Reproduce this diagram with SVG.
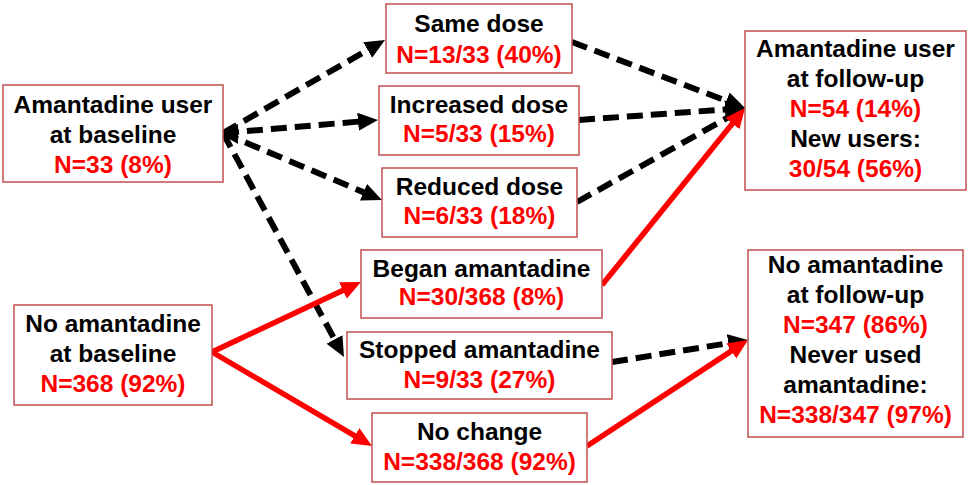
<svg xmlns="http://www.w3.org/2000/svg" width="972" height="485" viewBox="0 0 972 485">
<style>
.box{fill:#fff;stroke:#c0504d;stroke-width:1.5}
text{font-family:"Liberation Sans",Arial,sans-serif;font-weight:bold;font-size:24.5px;text-anchor:middle}
.k{fill:#000}
.r{fill:#ff0000}
.dash{fill:none;stroke:#000;stroke-width:6;stroke-dasharray:16 8}
.red{fill:none;stroke:#ff0000;stroke-width:5.5}
</style>
<defs>
<marker id="ak" markerUnits="userSpaceOnUse" markerWidth="22" markerHeight="20" refX="8" refY="9" orient="auto"><path d="M0,0 L20,9 L0,18 z" fill="#000"/></marker>
<marker id="ar" markerUnits="userSpaceOnUse" markerWidth="22" markerHeight="20" refX="8" refY="9" orient="auto"><path d="M0,0 L20,9 L0,18 z" fill="#ff0000"/></marker>
</defs>
<rect width="972" height="485" fill="#fff"/>
<g id="connectors">
<path class="dash" d="M223,133 L374.6,46" marker-end="url(#ak)"/>
<path class="dash" d="M223,133 L366,121" marker-end="url(#ak)"/>
<path class="dash" d="M223,133 L370.9,195.3" marker-end="url(#ak)"/>
<path class="dash" d="M223,133 L338.3,346.4" marker-end="url(#ak)"/>
<polygon points="221,134 238,124 238,144" fill="#000"/>
<path class="dash" d="M572,42 L733.8,103.7" marker-end="url(#ak)"/>
<path class="dash" d="M579,120 L733,108.9" marker-end="url(#ak)"/>
<path class="dash" d="M577,202 L734.5,113.9" marker-end="url(#ak)"/>
<path class="red" d="M602,285 L737.5,117.3" marker-end="url(#ar)"/>
<path class="red" d="M212,352 L350.1,287.1" marker-end="url(#ar)"/>
<path class="red" d="M212,352 L361.7,439.9" marker-end="url(#ar)"/>
<path class="dash" d="M612,362 L736.2,341.9" marker-end="url(#ak)"/>
<path class="red" d="M587,446 L738,346.6" marker-end="url(#ar)"/>
</g>
<g id="user-baseline">
<rect class="box" x="3" y="85" width="220" height="97"/>
<text class="k" x="113" y="113">Amantadine user</text>
<text class="k" x="113" y="143">at baseline</text>
<text class="r" x="113" y="173">N=33 (8%)</text>
</g>
<g id="no-baseline">
<rect class="box" x="14" y="305" width="198" height="100"/>
<text class="k" x="113" y="332">No amantadine</text>
<text class="k" x="113" y="362">at baseline</text>
<text class="r" x="113" y="392">N=368 (92%)</text>
</g>
<g id="same-dose">
<rect class="box" x="386" y="4" width="186" height="69"/>
<text class="k" x="479" y="32">Same dose</text>
<text class="r" x="479" y="63">N=13/33 (40%)</text>
</g>
<g id="increased-dose">
<rect class="box" x="379" y="86" width="200" height="69"/>
<text class="k" x="479" y="113">Increased dose</text>
<text class="r" x="479" y="142">N=5/33 (15%)</text>
</g>
<g id="reduced-dose">
<rect class="box" x="382" y="168" width="195" height="69"/>
<text class="k" x="479.5" y="195">Reduced dose</text>
<text class="r" x="479.5" y="224">N=6/33 (18%)</text>
</g>
<g id="began">
<rect class="box" x="361" y="250" width="241" height="68"/>
<text class="k" x="481.5" y="277">Began amantadine</text>
<text class="r" x="481.5" y="305">N=30/368 (8%)</text>
</g>
<g id="stopped">
<rect class="box" x="347" y="332" width="265" height="67"/>
<text class="k" x="479.5" y="358">Stopped amantadine</text>
<text class="r" x="479.5" y="388">N=9/33 (27%)</text>
</g>
<g id="no-change">
<rect class="box" x="372" y="413" width="215" height="69"/>
<text class="k" x="479.5" y="440">No change</text>
<text class="r" x="479.5" y="470">N=338/368 (92%)</text>
</g>
<g id="user-followup">
<rect class="box" x="745" y="31" width="221" height="159"/>
<text class="k" x="855.5" y="57">Amantadine user</text>
<text class="k" x="855.5" y="87">at follow-up</text>
<text class="r" x="855.5" y="117">N=54 (14%)</text>
<text class="k" x="855.5" y="147">New users:</text>
<text class="r" x="855.5" y="177">30/54 (56%)</text>
</g>
<g id="no-followup">
<rect class="box" x="748" y="250" width="215" height="187"/>
<text class="k" x="855.5" y="273">No amantadine</text>
<text class="k" x="855.5" y="303">at follow-up</text>
<text class="r" x="855.5" y="333">N=347 (86%)</text>
<text class="k" x="855.5" y="363">Never used</text>
<text class="k" x="855.5" y="393">amantadine:</text>
<text class="r" x="855.5" y="423">N=338/347 (97%)</text>
</g>
</svg>
